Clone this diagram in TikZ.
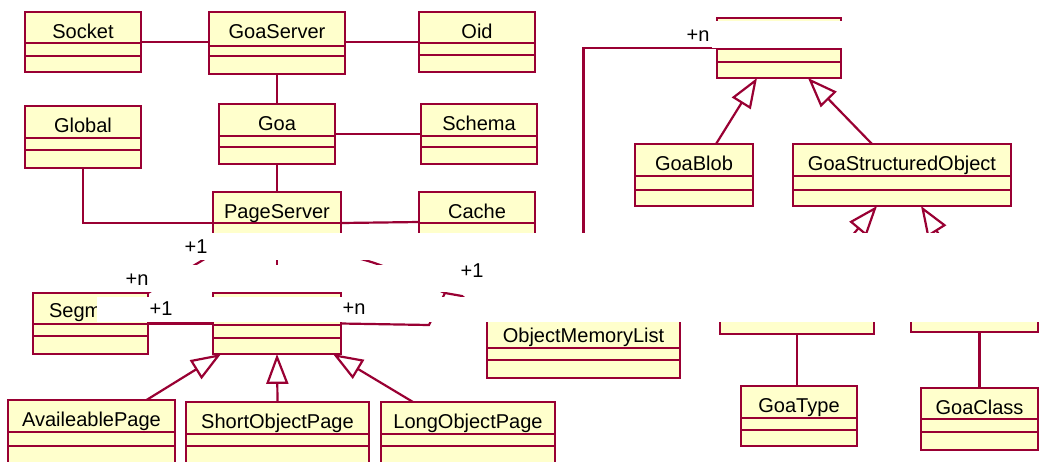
\documentclass[tikz,border=0pt]{standalone}
\usepackage{fontspec}
\setmainfont{Liberation Sans}
\usetikzlibrary{arrows.meta, calc}
\definecolor{umlred}{HTML}{990033}
\definecolor{umlfill}{HTML}{FFFFCC}
\tikzset{
  every picture/.style={x=0.02cm, y=-0.02cm, line width=1.25pt},
  classbox/.style={draw=umlred, fill=umlfill, inner sep=0pt, outer sep=0pt},
  classline/.style={draw=umlred},
  classname/.style={font=\fontsize{11.4}{13}\selectfont, anchor=base, inner sep=0pt},
  assoc/.style={draw=umlred},
  inherit/.style={draw=umlred, -{Triangle[open, length=17pt, width=12.5pt]}},
  mult/.style={font=\fontsize{11.4}{13}\selectfont, inner sep=0pt},
  mask/.style={fill=white, draw=none},
}
% name, text, x1, y1, x2, y2, first line, second line (pixels)
\newcommand{\umlclass}[8]{
  \node[classbox, minimum width={(#5-#3)*0.02cm}, minimum height={(#6-#4)*0.02cm}] (#1) at ({(#3+#5)/2},{(#4+#6)/2}) {};
  \draw[classline] (#3,#7) -- (#5,#7) (#3,#8) -- (#5,#8);
  \node[classname] (#1-name) at ({(#3+#5)/2},{#4+26}) {#2};
}

\begin{document}
\begin{tikzpicture}
  \useasboundingbox (0,0) rectangle (1039,461);
  \clip (0,0) rectangle (1039,461);
  % server side
  \umlclass{socket}{Socket}{25}{12}{141}{72}{43}{56}
  \umlclass{goaserver}{GoaServer}{209}{12}{345}{74}{46}{56}
  \umlclass{oid}{Oid}{419}{12}{535}{72}{43}{55}
  \umlclass{global}{Global}{25}{106}{141}{168}{138}{150}
  \umlclass{goa}{Goa}{219}{104}{335}{164}{136}{147}
  \umlclass{schema}{Schema}{421}{104}{537}{164}{136}{147}
  \umlclass{pageserver}{PageServer}{213}{192}{341}{254}{223}{235}
  \umlclass{cache}{Cache}{419}{192}{535}{252}{223}{235}
  % pages
  \umlclass{segm}{}{33}{293}{148}{354}{324}{336}
  \node[classname, anchor=base west] (segm-text) at (48,317) {Segm};
  \umlclass{page}{}{213}{293}{341}{354}{325}{338}
  \umlclass{oml}{ObjectMemoryList}{487}{316}{680}{378}{348}{360}
  \umlclass{avpage}{AvaileablePage}{8}{400}{175}{464}{432}{446}
  \umlclass{shortpage}{ShortObjectPage}{186}{402}{369}{464}{434}{446}
  \umlclass{longpage}{LongObjectPage}{381}{402}{555}{464}{434}{446}
  % objects
  \umlclass{goaobj}{}{717}{18}{841}{78}{49}{62}
  \umlclass{goablob}{GoaBlob}{635}{144}{753}{206}{176}{190}
  \umlclass{gso}{GoaStructuredObject}{793}{144}{1011}{206}{176}{190}
  \umlclass{typebox}{}{720}{274}{874}{334}{306}{318}
  \umlclass{classbox}{}{911}{272}{1038}{332}{304}{316}
  \umlclass{goatype}{GoaType}{741}{386}{857}{446}{418}{430}
  \umlclass{goaclass}{GoaClass}{921}{388}{1038}{450}{419}{432}

  \draw[assoc] (socket.east) -- (socket.east -| goaserver.west);
  \draw[assoc] (goaserver.east |- oid.west) -- (oid.west);
  \draw[assoc] (goaserver.south) -- (goa.north);
  \draw[assoc] (goa.east) -- (goa.east -| schema.west);
  \draw[assoc] (goa.south) -- (pageserver.north);
  \draw[assoc] (global.south) |- (pageserver.west);
  \draw[assoc] (pageserver.east) -- (cache.west);
  \draw[assoc] (pageserver.south) -- (page.north);
  \draw[assoc] (pageserver.south west) -- (segm.north east);
  \draw[assoc] (pageserver.south east) .. controls (378,263) .. (445,293) -- (462,296) -- (oml.north west);
  \draw[assoc] (segm.east) -- (page.west);
  \draw[assoc] (page.east) -- (429,325) -- (445,293);
  \draw[assoc] (goaobj.west) -| (oml.north);
  \draw[assoc] (typebox.south) -- (typebox.south |- goatype.north);
  \draw[assoc] (goaclass.north |- classbox.south) -- (goaclass.north);

  \draw[inherit] ($(avpage.north)+(55,0)$) -- ($(page.south)+(-56,0)$);
  \draw[inherit] (shortpage.north) -- (page.south);
  \draw[inherit] ($(longpage.north)+(-55,0)$) -- ($(page.south)+(56,0)$);
  \draw[inherit] ($(goablob.north)+(22,0)$) -- ($(goaobj.south)+(-22,0)$);
  \draw[inherit] ($(gso.north)+(-30,0)$) -- ($(goaobj.south)+(29,0)$);
  \draw[inherit] ($(typebox.north)+(23,0)$) -- ($(gso.south)+(-25,0)$);
  \draw[inherit] ($(classbox.north)+(-12,0)$) -- ($(gso.south)+(19,0)$);

  % blanked areas
  \fill[mask] (0,233) rectangle (1039,260);
  \fill[mask] (470,233) rectangle (1039,322);
  \fill[mask] (0,265) rectangle (470,291.5);
  \fill[mask] (97,297) rectangle (470,322);
  \fill[mask] (712,21) rectangle (845,47.5);

  \node[mult] (m1) at (698,36) {+n};
  \node[mult] (m2) at (196,247) {+1};
  \node[mult] (m3) at (137,280) {+n};
  \node[mult] (m4) at (161,309) {+1};
  \node[mult] (m5) at (354,309) {+n};
  \node[mult] (m6) at (472,271) {+1};
\end{tikzpicture}
\end{document}
